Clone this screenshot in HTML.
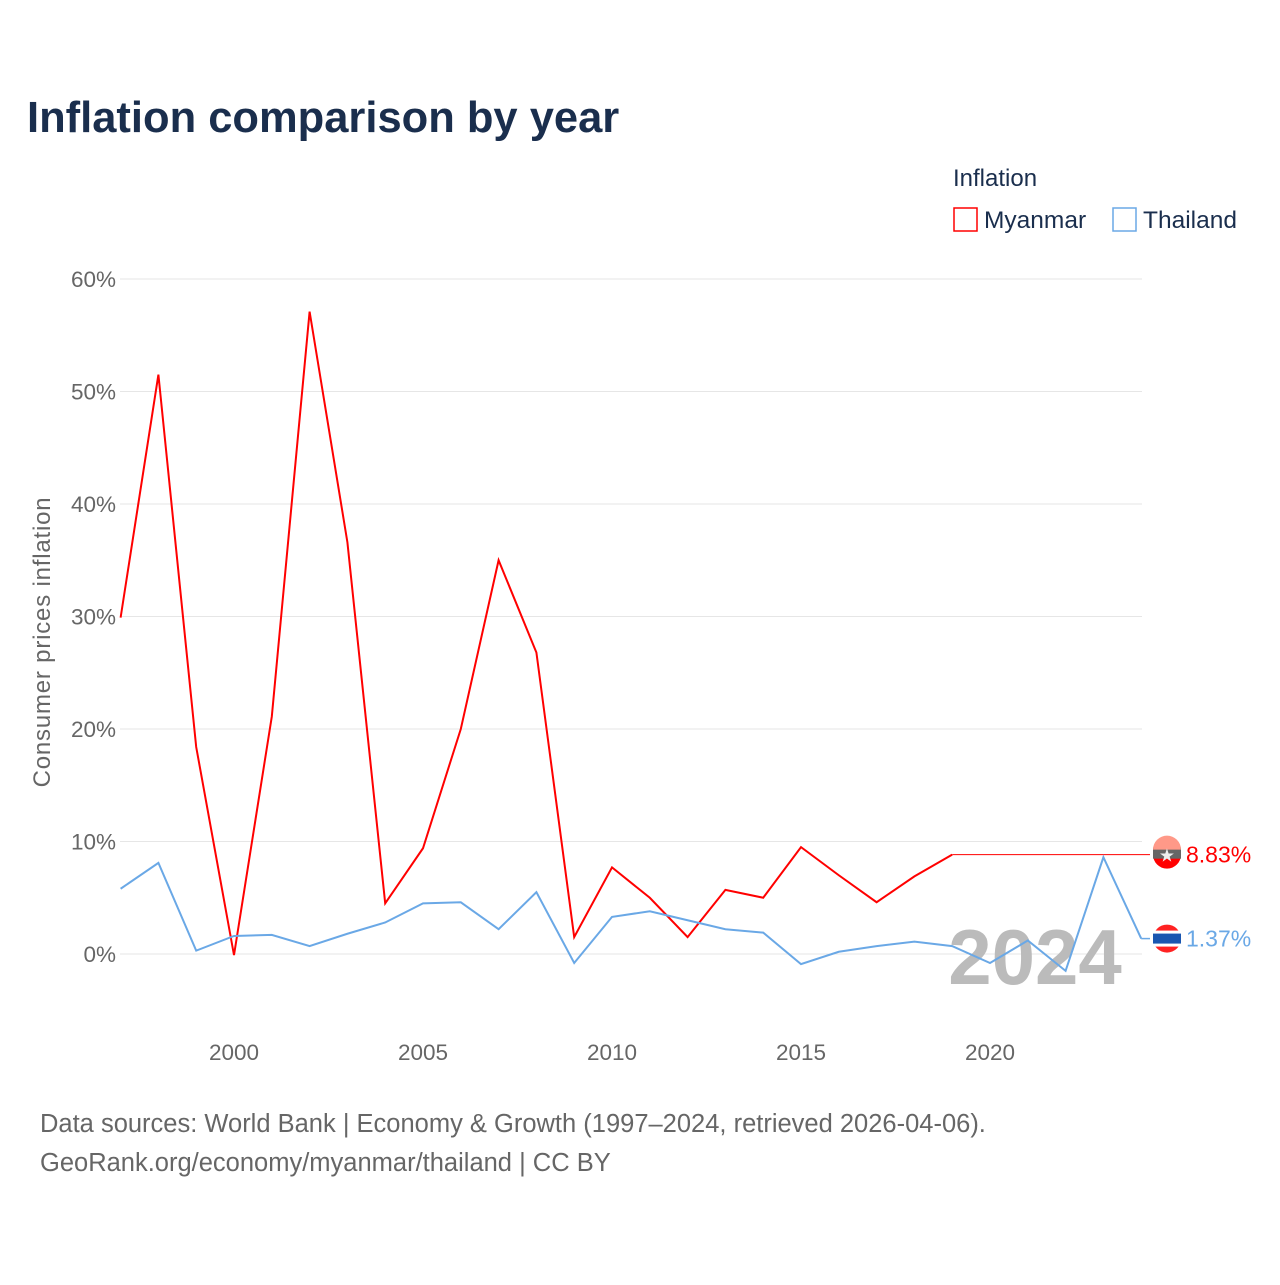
<!DOCTYPE html>
<html><head><meta charset="utf-8"><style>
body{margin:0;background:#fff;font-family:"Liberation Sans",sans-serif}
svg text{font-family:"Liberation Sans",sans-serif}
</style></head><body>
<svg width="1280" height="1280" xmlns="http://www.w3.org/2000/svg">
<text x="27" y="132" font-size="43.5" font-weight="bold" fill="#1a2e4d">Inflation comparison by year</text>
<text x="953" y="186" font-size="24" fill="#1a2e4d">Inflation</text>
<g><rect x="954" y="208" width="23" height="23" fill="none" stroke="#f00" stroke-width="1.5"/><text x="984" y="228" font-size="24.5" fill="#1a2e4d">Myanmar</text></g>
<g><rect x="1113" y="208" width="23" height="23" fill="none" stroke="#6aa8e6" stroke-width="1.5"/><text x="1143" y="228" font-size="24.5" fill="#1a2e4d">Thailand</text></g>
<g id="grid"></g>
<text x="1035" y="984" font-size="78" font-weight="bold" fill="#bbb" text-anchor="middle">2024</text>
<g id="plot"></g>
<text transform="translate(50,642) rotate(-90)" font-size="24" letter-spacing="0.8" fill="#666" text-anchor="middle">Consumer prices inflation</text>
<text x="40" y="1132" font-size="25.5" fill="#666">Data sources: World Bank | Economy &amp; Growth (1997–2024, retrieved 2026-04-06).</text>
<text x="40" y="1171" font-size="25.5" fill="#666">GeoRank.org/economy/myanmar/thailand | CC BY</text>
</svg>
<script>
const years=[1997,1998,1999,2000,2001,2002,2003,2004,2005,2006,2007,2008,2009,2010,2011,2012,2013,2014,2015,2016,2017,2018,2019,2020,2021,2022,2023,2024];
const myanmar=[29.9,51.5,18.4,-0.1,21.1,57.1,36.6,4.5,9.4,20.0,35.0,26.8,1.5,7.7,5.0,1.5,5.7,5.0,9.5,7.0,4.6,6.9,8.83];
const thailand=[5.8,8.1,0.3,1.6,1.7,0.7,1.8,2.8,4.5,4.6,2.2,5.5,-0.8,3.3,3.8,3.0,2.2,1.9,-0.9,0.2,0.7,1.1,0.7,-0.8,1.2,-1.5,8.6,1.37];
const yTicks=[0,10,20,30,40,50,60];
const xTicks=[2000,2005,2010,2015,2020];
const NS="http://www.w3.org/2000/svg";
const xs=y=>120.6+(y-1997)*37.8;
const ys=v=>954-v*11.25;
const grid=document.getElementById('grid'),plot=document.getElementById('plot');
function mk(tag,attrs,parent){const e=document.createElementNS(NS,tag);for(const k in attrs)e.setAttribute(k,attrs[k]);parent.appendChild(e);return e;}
yTicks.forEach(t=>{
 const l=mk('line',{x1:120,x2:1142,y1:ys(t),y2:ys(t),stroke:'#e6e6e6','stroke-width':1},grid);
 
 
 const tx=mk('text',{x:116,y:ys(t)+8,'font-size':22.5,fill:'#666','text-anchor':'end'},grid);tx.textContent=t+'%';
 
 
});
xTicks.forEach(t=>{
 const tx=mk('text',{x:xs(t),y:1060,'font-size':22.5,fill:'#666','text-anchor':'middle'},grid);tx.textContent=t;
 
 
});
function pts(vals){return vals.map((v,i)=>xs(years[i])+','+ys(v)).join(' ');}
const mLast=myanmar[myanmar.length-1];
const mt=mk('line',{x1:xs(years[myanmar.length-1]),x2:1150,y1:ys(mLast),y2:ys(mLast),stroke:'#f00','stroke-width':1},plot);


const m=mk('polyline',{points:pts(myanmar),fill:'none',stroke:'#f00','stroke-width':2},plot);


const tLast=thailand[thailand.length-1];
const tt=mk('line',{x1:xs(2024),x2:1150,y1:ys(tLast),y2:ys(tLast),stroke:'#6aa8e6','stroke-width':1.5},plot);


const th=mk('polyline',{points:pts(thailand),fill:'none',stroke:'#6aa8e6','stroke-width':2},plot);


const g1=mk('g',{},plot);


const cy1=ys(mLast);
mk('circle',{cx:1167,cy:cy1,r:14,fill:'#f00'},g1);
mk('rect',{x:1153,y:cy1-7,width:28,height:11,fill:'#666'},g1);
mk('path',{d:`M1153 ${cy1-5} A14 14 0 0 1 1181 ${cy1-5}Z`,fill:'#f98'},g1);
mk('text',{x:1167,y:cy1+7,'font-size':18,fill:'#eee','text-anchor':'middle'},g1).textContent='★';
const l1=mk('text',{x:1186,y:cy1+8,'font-size':23,fill:'#f00'},plot);l1.textContent=mLast.toFixed(2)+'%';


const g2=mk('g',{},plot);


const cy2=ys(tLast);
mk('circle',{cx:1167,cy:cy2,r:14,fill:'#f22'},g2);
mk('rect',{x:1153,y:cy2-8,width:28,height:16,fill:'#fff'},g2);
mk('rect',{x:1153,y:cy2-5,width:28,height:10,fill:'#1a56b0'},g2);
const l2=mk('text',{x:1186,y:cy2+8,'font-size':23,fill:'#6aa8e6'},plot);l2.textContent=tLast.toFixed(2)+'%';


</script>
</body></html>
